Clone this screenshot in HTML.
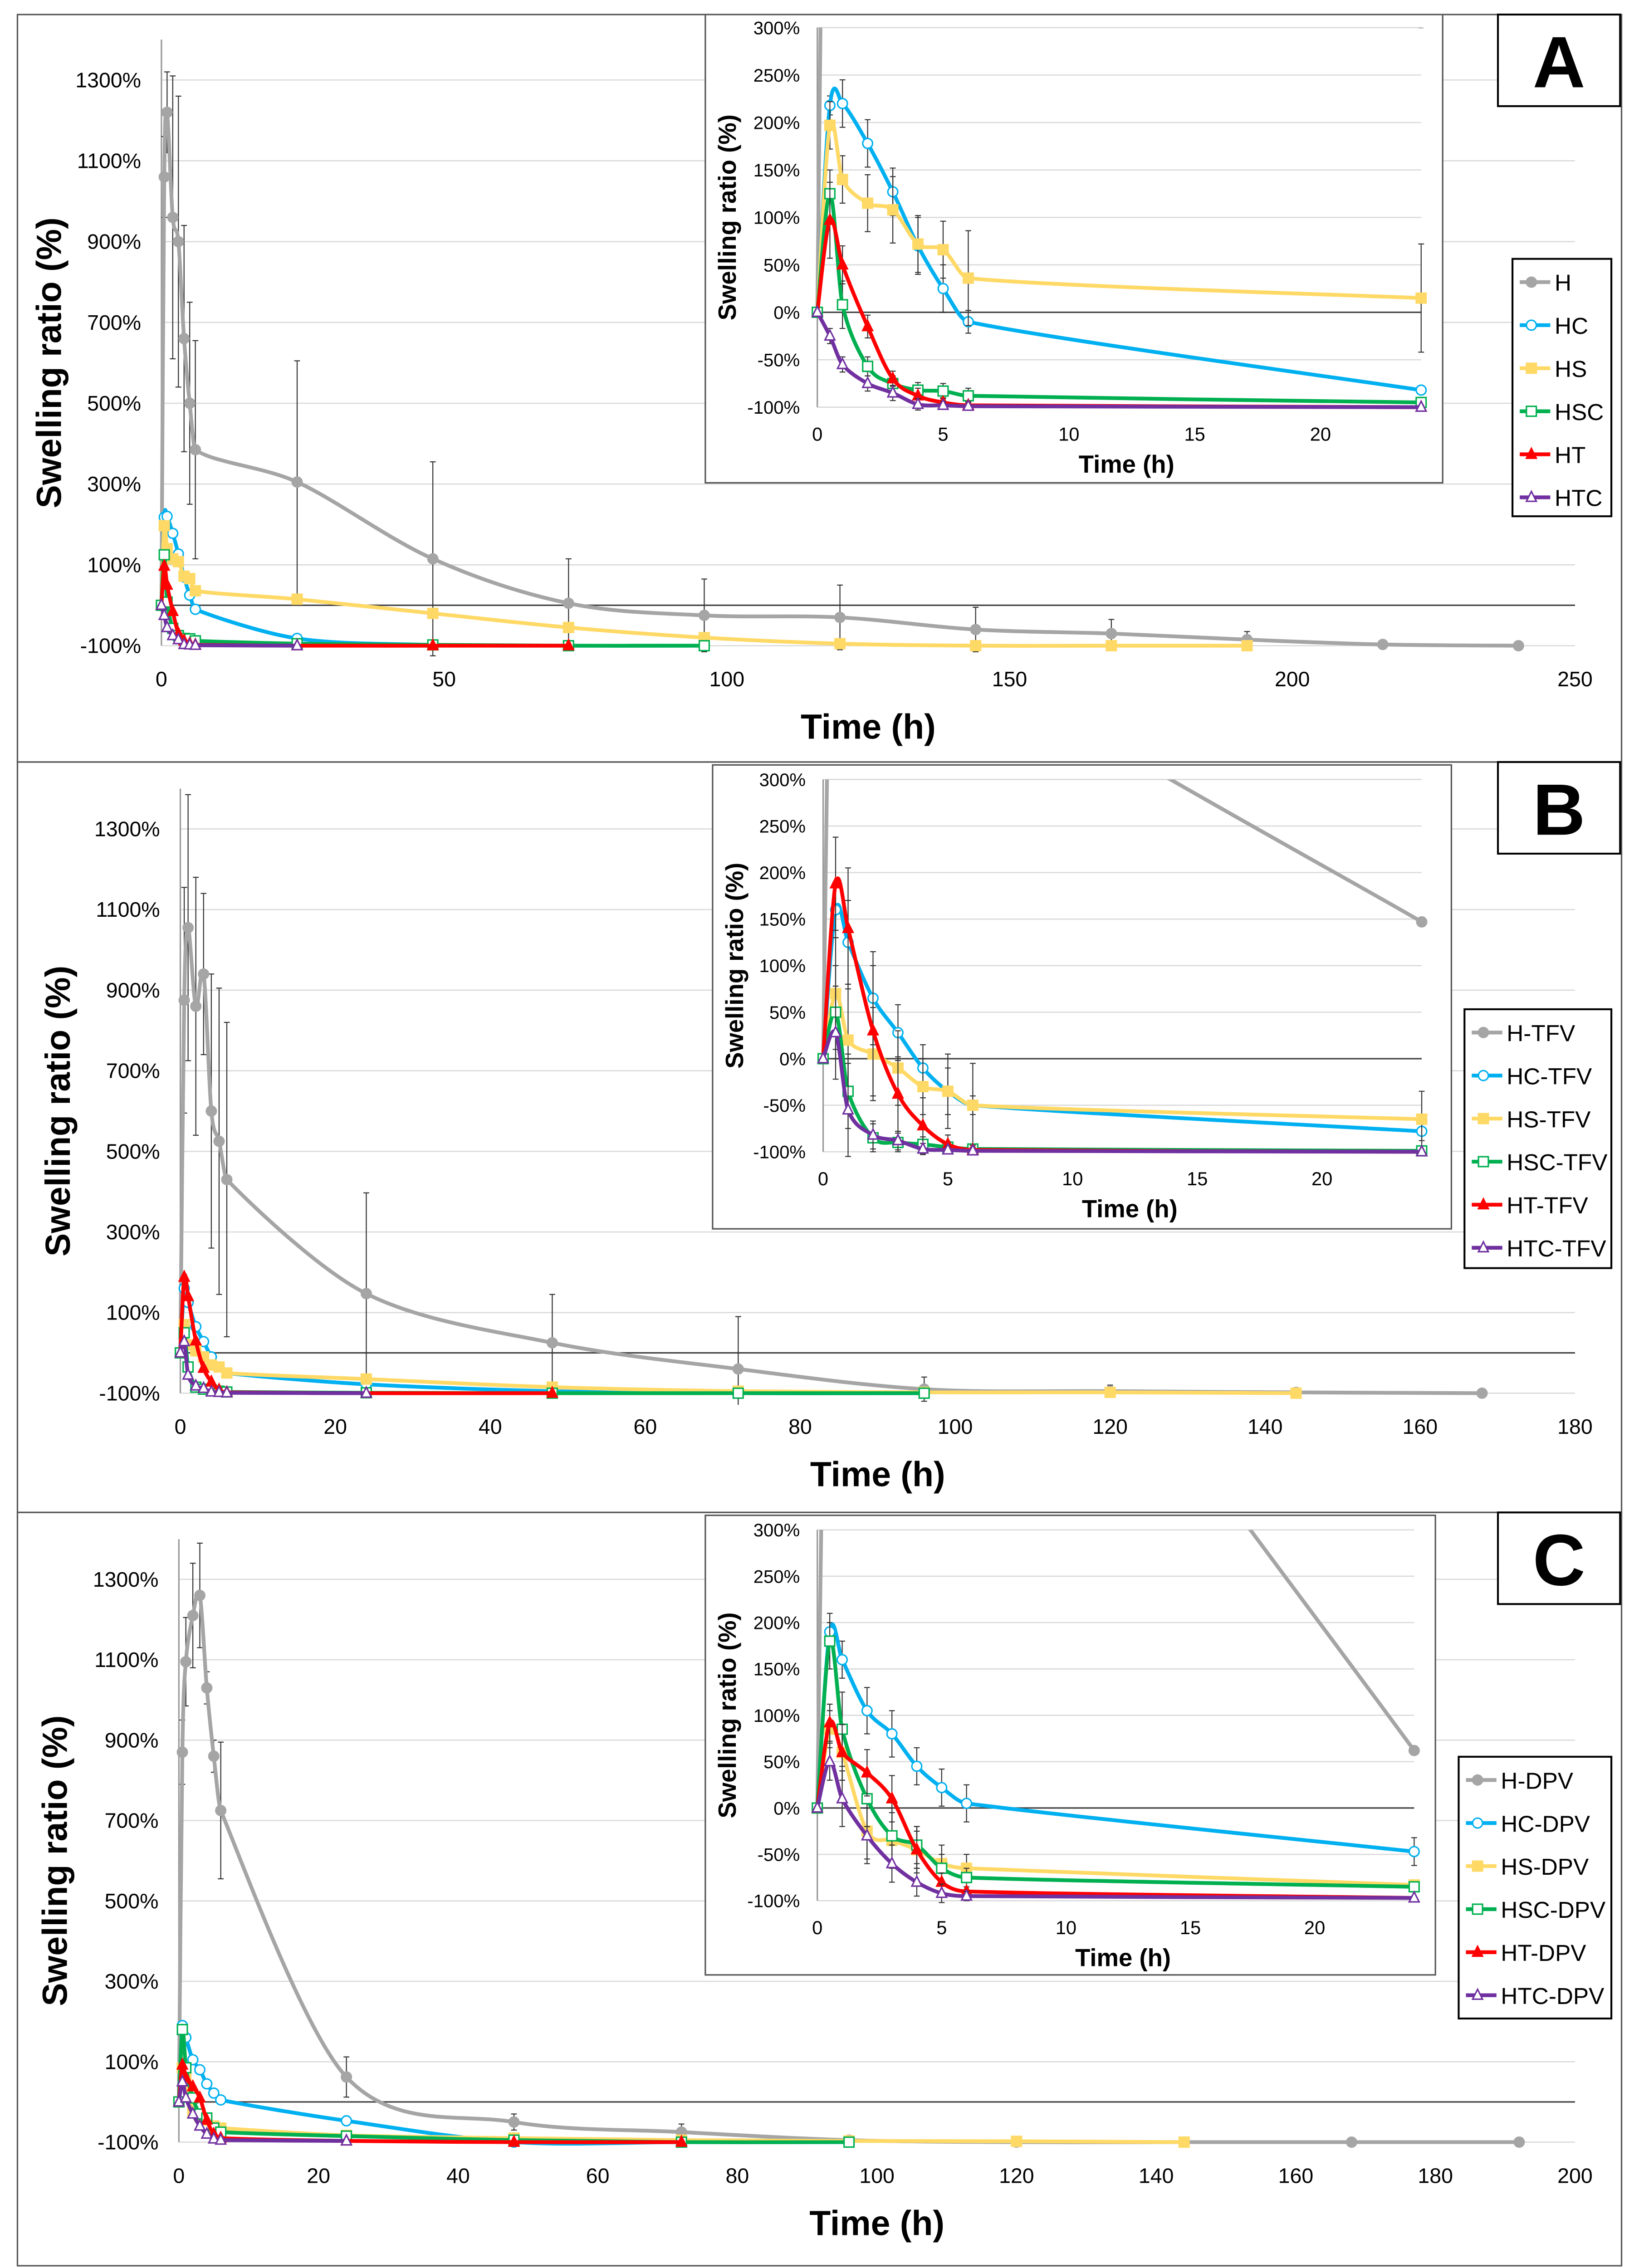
<!DOCTYPE html>
<html><head><meta charset="utf-8"><style>
html,body{margin:0;padding:0;background:#fff;width:3613px;height:5029px;overflow:hidden}
svg{display:block}
text{font-family:"Liberation Sans",sans-serif}
</style></head><body>
<svg id="fig" xmlns="http://www.w3.org/2000/svg" width="3613" height="5029" viewBox="0 0 1127 1568.6" preserveAspectRatio="none"></svg>
<script>
// shared time points (h)
const TIME=[0,0.5,1,2,3,4,5,6,24,48,72,96,120,144,168,192,216,240];
// Panel A values (%)
const A_H=[0,1060,1220,960,900,660,500,385,305,115,5,-25,-30,-60,-70,-85,-97,-100];
const A_HC=[0,218,220,178,127,70,25,-10,-82,-98,-100,-100];
const A_HS=[0,197,140,115,108,72,66,36,15,-20,-55,-80,-95,-100,-100,-100];
const A_HSC=[0,125,8,-57,-75,-82,-83,-88,-95,-98,-100,-100];
const A_HT=[0,97,50,-15,-70,-88,-95,-98,-100,-100,-100];
const A_HTC=[0,-25,-55,-75,-85,-97,-98,-99,-100];
// Panel B values
const B_H=[0,875,1055,860,940,600,525,430,147,25,-40,-90,-95,-98,-100];
const B_HC=[0,160,125,65,28,-10,-35,-50,-78,-95,-100,-100];
const B_HS=[0,70,20,5,-10,-30,-35,-50,-65,-85,-95,-98,-98,-100];
const B_HSC=[0,50,-35,-85,-90,-92,-95,-97,-99,-100,-100,-100];
const B_HT=[0,188,140,30,-38,-72,-92,-98,-100,-100];
const B_HTC=[0,28,-55,-82,-88,-97,-98,-99,-100];
// Panel C values
const C_H=[0,870,1095,1210,1260,1030,860,725,62,-50,-75,-95,-100,-100,-100,-100];
const C_HC=[0,190,160,105,80,45,22,5,-47,-100,-100,-100];
const C_HS=[0,85,60,-25,-35,-45,-60,-65,-83,-90,-95,-97,-98,-100];
const C_HSC=[0,180,85,10,-30,-40,-65,-75,-85,-95,-100,-100];
const C_HT=[0,92,60,38,10,-45,-80,-90,-97,-100,-100];
const C_HTC=[0,50,10,-30,-60,-80,-92,-95,-97];
// error magnitudes (%)
const ERR_H_A=[0,100,100,350,360,280,250,270,300,240,110,90,80,55,35,20,0,0];
const ERR_H_B=[0,280,330,320,200,340,380,390,250,120,130,30,15,0,0];
const ERR_H_C=[0,80,110,130,130,40,40,170,50,20,20,0,0,0,0,0];
const XT_A=[0,50,100,150,200,250];
const XT_B=[0,20,40,60,80,100,120,140,160,180];
const XT_C=[0,20,40,60,80,100,120,140,160,180,200];
const YT_MAIN=[-100,100,300,500,700,900,1100,1300];
const YT_IN=[-100,-50,0,50,100,150,200,250,300];
const XT_IN=[0,5,10,15,20];

const NS="http://www.w3.org/2000/svg";
const svg=document.getElementById('fig');
function el(tag,attrs,parent){const e=document.createElementNS(NS,tag);for(const k in attrs)e.setAttribute(k,attrs[k]);(parent||svg).appendChild(e);return e;}
function txt(s,attrs,parent){const e=el('text',attrs,parent);e.textContent=s;return e;}
const STY={H:{c:'#a5a5a5',m:'circle',f:true},HC:{c:'#00b0f0',m:'circle',f:false},HS:{c:'#ffd966',m:'square',f:true},HSC:{c:'#00b050',m:'square',f:false},HT:{c:'#ff0000',m:'tri',f:true},HTC:{c:'#7030a0',m:'tri',f:false}};
function smooth(pts){if(pts.length<2)return'';let d='M'+pts[0][0]+','+pts[0][1];
 for(let i=0;i<pts.length-1;i++){const p0=pts[Math.max(0,i-1)],p1=pts[i],p2=pts[i+1],p3=pts[Math.min(pts.length-1,i+2)];
  let c1=[p1[0]+(p2[0]-p0[0])/6,p1[1]+(p2[1]-p0[1])/6],c2=[p2[0]-(p3[0]-p1[0])/6,p2[1]-(p3[1]-p1[1])/6];
  const dx=p2[0]-p1[0];
  // keep control points inside segment in x to avoid loops
  if(c1[0]-p1[0]>dx/3){const s=(dx/3)/(c1[0]-p1[0]);c1=[p1[0]+(c1[0]-p1[0])*s,p1[1]+(c1[1]-p1[1])*s];}
  if(p2[0]-c2[0]>dx/3){const s=(dx/3)/(p2[0]-c2[0]);c2=[p2[0]-(p2[0]-c2[0])*s,p2[1]-(p2[1]-c2[1])*s];}
  d+=' C'+c1+' '+c2+' '+p2;}return d;}
function marker(g,st,x,y,r){let e;const fill=st.f?st.c:'#fff';
 if(st.m==='circle')e=el('circle',{cx:x,cy:y,r:r,fill:fill,stroke:st.c,'stroke-width':1},g);
 else if(st.m==='square')e=el('rect',{x:x-r,y:y-r,width:2*r,height:2*r,fill:fill,stroke:st.c,'stroke-width':1},g);
 else e=el('polygon',{points:(x)+','+(y-r*1.2)+' '+(x-r)+','+(y+r*0.8)+' '+(x+r)+','+(y+r*0.8),fill:fill,stroke:st.c,'stroke-width':1},g);
 }
function series(g,key,vals,err,sx,sy,tmax,clipId,name){
 const st=STY[key];const sg=el('g',{'clip-path':'url(#'+clipId+')'},g);
 
 const pts=[];for(let i=0;i<vals.length;i++){if(TIME[i]>tmax)break;pts.push([sx(TIME[i]),sy(vals[i])]);}
 if(err){for(let i=0;i<pts.length;i++){const e=err[i]||0;if(!e)continue;const x=pts[i][0];const y1=sy(vals[i]+e),y2=sy(vals[i]-e);
  el('line',{x1:x,y1:y1,x2:x,y2:y2,stroke:'#333','stroke-width':0.7},sg);el('line',{x1:x-2,y1:y1,x2:x+2,y2:y1,stroke:'#333','stroke-width':0.7},sg);el('line',{x1:x-2,y1:y2,x2:x+2,y2:y2,stroke:'#333','stroke-width':0.7},sg);}}
 el('path',{d:smooth(pts),fill:'none',stroke:st.c,'stroke-width':2.6,'stroke-linejoin':'round'},sg);
 pts.forEach(p=>marker(sg,st,p[0],p[1],3.4));}
let clipN=0;
function clip(x,y,w,h){const id='cp'+(clipN++);const c=el('clipPath',{id:id});el('rect',{x:x,y:y,width:w,height:h},c);return id;}

function panel(P){
 const g=el('g',{});
 el('rect',{x:12,y:P.top,width:1103,height:P.h,fill:'#fff',stroke:'#555','stroke-width':1},g);
 const m=P.main;const sx=t=>m.x0+t*(m.x1-m.x0)/m.xmax;const sy=v=>m.yb+(v+100)*(m.yt-m.yb)/1400;
 YT_MAIN.forEach(v=>{el('line',{x1:m.x0,y1:sy(v),x2:m.x1,y2:sy(v),stroke:'#d9d9d9','stroke-width':0.8},g);
  const t=txt(v+'%',{x:m.x0-14,y:sy(v)+5,'text-anchor':'end','font-size':14.5,fill:'#000'},g);});
 el('line',{x1:m.x0,y1:sy(0),x2:m.x1,y2:sy(0),stroke:'#444','stroke-width':1},g);
 el('line',{x1:m.x0,y1:sy(1400),x2:m.x0,y2:sy(-100),stroke:'#999','stroke-width':1},g);
 P.xt.forEach(v=>{const t=txt(String(v),{x:sx(v),y:sy(-100)+28,'text-anchor':'middle','font-size':14.5},g);});
 let t=txt('Time (h)',{x:(m.x0+m.x1)/2,y:sy(-100)+64,'text-anchor':'middle','font-size':24,'font-weight':'bold'},g);
 t=txt('Swelling ratio (%)',{x:0,y:0,'text-anchor':'middle','font-size':24,'font-weight':'bold',transform:'translate('+P.ytx+','+(sy(600))+') rotate(-90)'},g);
 const cm=clip(m.x0-6,sy(1400),m.x1-m.x0+12,sy(-100)-sy(1400)+8);
 P.keys.forEach((k,i)=>series(g,k,P.vals[i],k==='H'?P.herr:null,sx,sy,1000,cm,'main-series-'+k.toLowerCase()));
 const n=P.inset;const ix=t=>n.x0+t*(n.x20-n.x0)/20;const iy=v=>n.yb+(v+100)*(n.yt-n.yb)/400;
 const ig=el('g',{},g);
 el('rect',{x:n.bx,y:n.by,width:n.bw,height:n.bh,fill:'#fff',stroke:'#555','stroke-width':1},ig);
 YT_IN.forEach(v=>{el('line',{x1:n.x0,y1:iy(v),x2:ix(24),y2:iy(v),stroke:'#d9d9d9','stroke-width':0.8},ig);
  const tt=txt(v+'%',{x:n.x0-12,y:iy(v)+4.5,'text-anchor':'end','font-size':12.5},ig);});
 el('line',{x1:n.x0,y1:iy(0),x2:ix(24),y2:iy(0),stroke:'#444','stroke-width':1},ig);
 el('line',{x1:n.x0,y1:iy(300),x2:n.x0,y2:iy(-100),stroke:'#999','stroke-width':1},ig);
 XT_IN.forEach(v=>{const tt=txt(String(v),{x:ix(v),y:iy(-100)+23,'text-anchor':'middle','font-size':13},ig);});
 t=txt('Time (h)',{x:(n.x0+ix(24))/2+5,y:iy(-100)+45,'text-anchor':'middle','font-size':17,'font-weight':'bold'},ig);
 t=txt('Swelling ratio (%)',{x:0,y:0,'text-anchor':'middle','font-size':17,'font-weight':'bold',transform:'translate('+(n.bx+21)+','+iy(100)+') rotate(-90)'},ig);
 const ci=clip(n.x0-5,iy(300),ix(24)-n.x0+10,iy(-100)-iy(300)+6);
 P.keys.forEach((k,i)=>series(ig,k,P.vals[i],P.inErr[i],ix,iy,24,ci,'inset-series-'+k.toLowerCase()));
 const L=P.leg;const lg=el('g',{},g);
 el('rect',{x:L.x,y:L.y,width:L.w,height:L.h,fill:'#fff',stroke:'#000','stroke-width':1.3},lg);
 P.keys.forEach((k,i)=>{const yy=L.y+16+i*29.6;const st=STY[k];const e=el('g',{},lg);
  el('line',{x1:L.x+5,y1:yy,x2:L.x+26,y2:yy,stroke:st.c,'stroke-width':2.6},e);marker(e,st,L.x+13,yy,3.4);
  txt(k+P.suffix,{x:L.x+29,y:yy+6,'font-size':16},e);});
 el('rect',{x:1030,y:P.top,width:84,height:63,fill:'#fff',stroke:'#000','stroke-width':1.3},g);
 t=txt(P.label,{x:1072,y:P.top+50,'text-anchor':'middle','font-size':50,'font-weight':'bold'},g);
}
const KEYS=['H','HC','HS','HSC','HT','HTC'];
const IE=[null,[0,10,25,25,25,30,25,12,0],[0,25,25,30,35,30,30,50,57],[0,25,25,10,8,8,8,8,5],[0,40,20,12,8,8,5,4,2],[0,8,8,8,8,6,4,4,0]];
panel({label:'A',top:10,h:514,suffix:'',keys:KEYS,vals:[A_H,A_HC,A_HS,A_HSC,A_HT,A_HTC],herr:ERR_H_A,inErr:IE,xt:XT_A,ytx:42,
 main:{x0:111,x1:1083,xmax:250,yb:444,yt:55},inset:{bx:485,by:10,bw:507,bh:322,x0:562,x20:908,yb:280,yt:19},leg:{x:1040,y:178,w:68,h:177}});
const IEB=[null,[0,30,45,50,30,25,25,10,10],[0,60,60,50,40,30,40,45,30],[0,50,40,15,10,8,6,5,3],[0,50,65,70,40,30,10,5,0],[0,50,50,15,10,6,4,4,0]];
panel({label:'B',top:524,h:516,suffix:'-TFV',keys:KEYS,vals:[B_H,B_HC,B_HS,B_HSC,B_HT,B_HTC],herr:ERR_H_B,inErr:IEB,xt:XT_B,ytx:48,
 main:{x0:124,x1:1083,xmax:180,yb:958,yt:570},inset:{bx:490,by:526,bw:508,bh:319,x0:566,x20:909,yb:792,yt:536},leg:{x:1007,y:694,w:101,h:178}});
const IEC=[null,[0,10,20,25,25,20,20,20,15],[0,20,30,30,30,25,20,15,5],[0,30,40,30,30,20,15,10,5],[0,20,30,25,25,20,10,5,0],[0,20,30,30,20,15,10,5,0]];
panel({label:'C',top:1040,h:518,suffix:'-DPV',keys:KEYS,vals:[C_H,C_HC,C_HS,C_HSC,C_HT,C_HTC],herr:ERR_H_C,inErr:IEC,xt:XT_C,ytx:46,
 main:{x0:123,x1:1083,xmax:200,yb:1473,yt:1086},inset:{bx:485,by:1042,bw:502,bh:316,x0:562,x20:904,yb:1307,yt:1052},leg:{x:1003,y:1208,w:105,h:180}});
</script>
</body></html>
